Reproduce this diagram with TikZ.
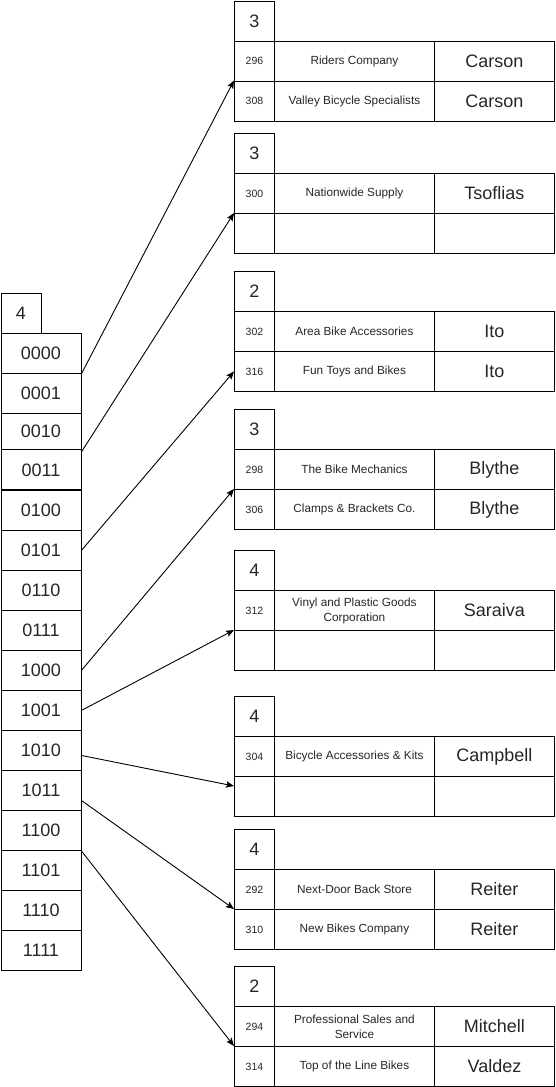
\documentclass[tikz,border=0pt]{standalone}
\usepackage{fontspec}
\setmainfont{Liberation Sans}
\usetikzlibrary{arrows.meta,calc}

% Extendible hashing: a directory of depth 4 and its buckets.
\tikzset{
  cell/.style={draw, rectangle, inner sep=0pt, anchor=north west,
    line width=0.9pt, text=black!85},
  big/.style={font=\fontsize{18}{20}\selectfont},
  dircell/.style={cell, big, minimum width=80pt},
  depthcell/.style={cell, big, minimum width=40pt, minimum height=40pt},
  idcell/.style={cell, minimum width=40pt, minimum height=40pt,
    font=\fontsize{10.5}{12}\selectfont},
  namecell/.style={cell, minimum width=160pt, minimum height=40pt, align=center,
    font=\fontsize{11.8}{15}\selectfont},
  contactcell/.style={cell, big, minimum width=120pt, minimum height=40pt},
  link/.style={line width=0.9pt, -{Stealth[length=8pt,width=6.5pt,inset=1.5pt]}},
}

% #1 prefix, #2 top y, #3 local depth, #4-#6 first record, #7-#9 second record
\newcommand\hashbucket[9]{%
  \node[depthcell] (#1h) at (234,#2) {#3};
  \node[idcell] (#1a) at (234,#2+40) {#4};
  \node[namecell] (#1an) at (274,#2+40) {#5};
  \node[contactcell] (#1ac) at (434,#2+40) {#6};
  \node[idcell] (#1b) at (234,#2+80) {#7};
  \node[namecell] (#1bn) at (274,#2+80) {#8};
  \node[contactcell] (#1bc) at (434,#2+80) {#9};
}

\begin{document}
\begin{tikzpicture}[x=1pt, y=-1pt]
\useasboundingbox (0,0) rectangle (555,1087);

% global depth and directory entries
\node[depthcell] (gd) at (0.5,293) {4};
\node[dircell, minimum height=40pt] (d0000) at (0.5,333) {0000};
\node[dircell, minimum height=40pt] (d0001) at (0.5,373) {0001};
\node[dircell, minimum height=36pt] (d0010) at (0.5,413) {0010};
\node[dircell, minimum height=41pt] (d0011) at (0.5,449) {0011};
\node[dircell, minimum height=40pt] (d0100) at (0.5,490) {0100};
\node[dircell, minimum height=40pt] (d0101) at (0.5,530) {0101};
\node[dircell, minimum height=40pt] (d0110) at (0.5,570) {0110};
\node[dircell, minimum height=40pt] (d0111) at (0.5,610) {0111};
\node[dircell, minimum height=40pt] (d1000) at (0.5,650) {1000};
\node[dircell, minimum height=40pt] (d1001) at (0.5,690) {1001};
\node[dircell, minimum height=40pt] (d1010) at (0.5,730) {1010};
\node[dircell, minimum height=40pt] (d1011) at (0.5,770) {1011};
\node[dircell, minimum height=40pt] (d1100) at (0.5,810) {1100};
\node[dircell, minimum height=40pt] (d1101) at (0.5,850) {1101};
\node[dircell, minimum height=40pt] (d1110) at (0.5,890) {1110};
\node[dircell, minimum height=40pt] (d1111) at (0.5,930) {1111};
\draw[line width=1.6pt] (d0100.north west) -- (d0100.north east);

% buckets
\hashbucket{ba}{0.5}{3}{296}{Riders Company}{Carson}{308}{Valley Bicycle Specialists}{Carson}
\hashbucket{bb}{133}{3}{300}{Nationwide Supply}{Tsoflias}{}{}{}
\hashbucket{bc}{271}{2}{302}{Area Bike Accessories}{Ito}{316}{Fun Toys and Bikes}{Ito}
\hashbucket{bd}{409}{3}{298}{The Bike Mechanics}{Blythe}{306}{Clamps \& Brackets Co.}{Blythe}
\hashbucket{be}{550}{4}{312}{Vinyl and Plastic Goods\\Corporation}{Saraiva}{}{}{}
\hashbucket{bf}{696}{4}{304}{Bicycle Accessories \& Kits}{Campbell}{}{}{}
\hashbucket{bg}{829}{4}{292}{Next-Door Back Store}{Reiter}{310}{New Bikes Company}{Reiter}
\hashbucket{bh}{966}{2}{294}{Professional Sales and\\Service}{Mitchell}{314}{Top of the Line Bikes}{Valdez}

% directory pointers
\draw[link] (d0000.south east) -- (bab.north west);
\draw[link] ($(d0011.north east)+(0,3)$) -- (bbb.north west);
\draw[link] (d0101.east) -- (bcb.west);
\draw[link] (d1000.east) -- (bdb.north west);
\draw[link] (d1001.east) -- (beb.north west);
\draw[link] ($(d1010.east)+(0,5)$) -- ($(bfb.north west)+(0,10)$);
\draw[link] ($(d1011.east)+(0,10)$) -- (bgb.north west);
\draw[link] (d1100.south east) -- (bhb.north west);
\end{tikzpicture}
\end{document}
